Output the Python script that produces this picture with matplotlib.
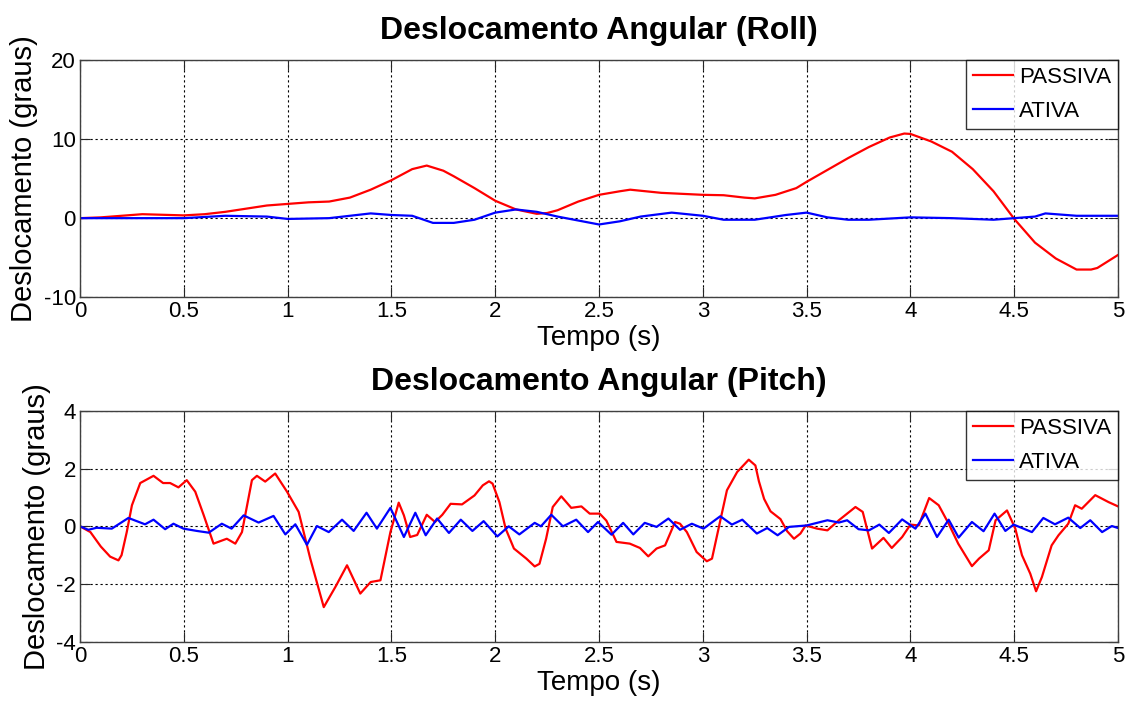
import matplotlib
matplotlib.use("Agg")
import matplotlib.pyplot as plt
import numpy as np

# --- Roll: deslocamento angular (graus) ---
roll_t_passiva = [0, 0.1, 0.3, 0.5, 0.6, 0.7, 0.8, 0.9, 1.0, 1.1,
                  1.2, 1.3, 1.4, 1.5, 1.6, 1.67, 1.75, 1.8, 1.9, 2.0,
                  2.1, 2.2, 2.25, 2.3, 2.4, 2.5, 2.6, 2.65, 2.8, 3.0,
                  3.1, 3.2, 3.25, 3.35, 3.45, 3.5, 3.6, 3.7, 3.8, 3.9,
                  3.97, 4.0, 4.1, 4.2, 4.3, 4.4, 4.5, 4.6, 4.7, 4.8,
                  4.87, 4.9, 5.0]
roll_passiva = [0, 0.1, 0.5, 0.35, 0.5, 0.8, 1.2, 1.6, 1.8, 2.0,
                2.1, 2.6, 3.6, 4.8, 6.2, 6.65, 6.0, 5.3, 3.8, 2.2,
                1.1, 0.55, 0.65, 1.0, 2.1, 2.95, 3.4, 3.6, 3.2, 2.95,
                2.9, 2.6, 2.5, 2.95, 3.8, 4.6, 6.1, 7.6, 9.0, 10.2,
                10.7, 10.65, 9.7, 8.4, 6.2, 3.4, -0.1, -3.1, -5.1, -6.5,
                -6.5, -6.3, -4.65]

roll_t_ativa = [0, 0.5, 0.7, 0.9, 1.0, 1.2, 1.3, 1.4, 1.5, 1.6,
                1.7, 1.8, 1.9, 2.0, 2.1, 2.2, 2.3, 2.4, 2.5, 2.6,
                2.7, 2.85, 3.0, 3.1, 3.25, 3.4, 3.5, 3.6, 3.7, 3.8,
                4.0, 4.2, 4.4, 4.5, 4.6, 4.65, 4.8, 5.0]
roll_ativa = [0, 0, 0.3, 0.2, -0.1, 0.0, 0.3, 0.6, 0.4, 0.3,
              -0.6, -0.6, -0.2, 0.7, 1.1, 0.8, 0.2, -0.3, -0.8, -0.4,
              0.2, 0.7, 0.3, -0.2, -0.2, 0.4, 0.7, 0.1, -0.2, -0.2,
              0.1, 0.0, -0.2, 0.0, 0.2, 0.6, 0.3, 0.3]

# --- Pitch: deslocamento angular (graus) ---
pitch_t_passiva = [0, 0.05, 0.1, 0.145, 0.185, 0.2, 0.225, 0.25, 0.29, 0.354,
                   0.4, 0.434, 0.474, 0.514, 0.555, 0.595, 0.643, 0.707, 0.748, 0.78,
                   0.828, 0.852, 0.892, 0.94, 0.997, 1.053, 1.109, 1.174, 1.23, 1.286,
                   1.35, 1.4, 1.447, 1.495, 1.535, 1.56, 1.59, 1.624, 1.67, 1.71,
                   1.745, 1.785, 1.84, 1.9, 1.94, 1.97, 1.987, 2.02, 2.05, 2.09,
                   2.15, 2.19, 2.213, 2.245, 2.277, 2.318, 2.366, 2.415, 2.455, 2.503,
                   2.535, 2.584, 2.648, 2.697, 2.737, 2.777, 2.818, 2.866, 2.89, 2.923,
                   2.97, 3.019, 3.044, 3.084, 3.116, 3.165, 3.221, 3.253, 3.27, 3.295,
                   3.326, 3.374, 3.406, 3.439, 3.47, 3.495, 3.55, 3.6, 3.655, 3.735,
                   3.77, 3.815, 3.87, 3.91, 3.96, 4.0, 4.04, 4.09, 4.136, 4.184,
                   4.23, 4.296, 4.33, 4.377, 4.41, 4.465, 4.505, 4.537, 4.577, 4.605,
                   4.633, 4.68, 4.713, 4.76, 4.793, 4.825, 4.89, 4.954, 5.0]
pitch_passiva = [0, -0.2, -0.7, -1.05, -1.18, -1.0, -0.2, 0.73, 1.5, 1.75,
                 1.5, 1.5, 1.35, 1.6, 1.2, 0.4, -0.6, -0.43, -0.6, -0.2,
                 1.6, 1.75, 1.55, 1.83, 1.2, 0.5, -1.12, -2.8, -2.1, -1.35,
                 -2.33, -1.93, -1.87, -0.2, 0.82, 0.38, -0.37, -0.3, 0.4, 0.15,
                 0.4, 0.78, 0.76, 1.07, 1.42, 1.56, 1.48, 0.84, -0.08, -0.77,
                 -1.12, -1.39, -1.3, -0.43, 0.67, 1.04, 0.64, 0.69, 0.44, 0.44,
                 0.2, -0.54, -0.6, -0.75, -1.04, -0.77, -0.66, 0.15, 0.09, -0.2,
                 -0.89, -1.21, -1.12, 0.2, 1.25, 1.88, 2.31, 2.11, 1.56, 0.95,
                 0.52, 0.25, -0.17, -0.43, -0.25, 0.03, -0.08, -0.14, 0.21, 0.67,
                 0.5, -0.77, -0.4, -0.75, -0.37, 0.06, 0.03, 0.98, 0.73, 0.09,
                 -0.6, -1.38, -1.12, -0.83, 0.21, 0.55, -0.08, -1.0, -1.64, -2.25,
                 -1.76, -0.66, -0.31, 0.09, 0.73, 0.61, 1.08, 0.84, 0.69]

pitch_t_ativa = [0, 0.04, 0.08, 0.153, 0.233, 0.313, 0.354, 0.41, 0.45, 0.498,
                 0.563, 0.62, 0.683, 0.73, 0.788, 0.86, 0.932, 0.989, 1.037, 1.093,
                 1.141, 1.198, 1.262, 1.318, 1.38, 1.43, 1.495, 1.56, 1.615, 1.665,
                 1.72, 1.777, 1.834, 1.89, 1.944, 2.01, 2.065, 2.116, 2.19, 2.22,
                 2.27, 2.326, 2.39, 2.447, 2.495, 2.56, 2.616, 2.665, 2.72, 2.777,
                 2.834, 2.89, 2.947, 3.003, 3.084, 3.14, 3.19, 3.26, 3.31, 3.36,
                 3.415, 3.5, 3.6, 3.655, 3.695, 3.75, 3.8, 3.85, 3.896, 3.96,
                 4.024, 4.072, 4.128, 4.184, 4.232, 4.296, 4.352, 4.405, 4.457, 4.497,
                 4.585, 4.64, 4.696, 4.76, 4.818, 4.866, 4.923, 4.97, 5.0]
pitch_ativa = [0, -0.12, -0.05, -0.08, 0.29, 0.07, 0.23, -0.1, 0.09, -0.08,
               -0.16, -0.22, 0.09, -0.08, 0.38, 0.13, 0.36, -0.28, 0.07, -0.64,
               0.01, -0.2, 0.23, -0.16, 0.47, -0.08, 0.64, -0.37, 0.47, -0.31,
               0.27, -0.23, 0.23, -0.16, 0.18, -0.35, 0.0, -0.28, 0.12, 0.0,
               0.4, 0.0, 0.23, -0.2, 0.15, -0.29, 0.12, -0.28, 0.12, -0.02,
               0.27, -0.12, 0.09, -0.08, 0.35, 0.06, 0.23, -0.25, -0.06, -0.31,
               -0.02, 0.03, 0.21, 0.13, 0.21, -0.1, -0.14, 0.06, -0.23, 0.24,
               -0.08, 0.44, -0.37, 0.23, -0.39, 0.15, -0.17, 0.44, -0.16, 0.06,
               -0.2, 0.29, 0.07, 0.3, -0.06, 0.21, -0.2, 0.01, -0.06]

x_ticks = [0, 0.5, 1, 1.5, 2, 2.5, 3, 3.5, 4, 4.5, 5]
x_ticklabels = ["0", "0.5", "1", "1.5", "2", "2.5", "3", "3.5", "4", "4.5", "5"]

RED = "#ff0000"
BLUE = "#0000ff"

plt.rcParams.update({
    "font.family": ["Liberation Sans", "DejaVu Sans"],
    "font.size": 16,
    "axes.unicode_minus": False,
})

fig = plt.figure(figsize=(11.32, 7.06), dpi=100)
ax_roll = fig.add_axes([0.0707, 0.579, 0.917, 0.336])
ax_pitch = fig.add_axes([0.0707, 0.091, 0.917, 0.327])


def style_axes(ax, title, ylim, yticks):
    ax.set_xlim(0, 5)
    ax.set_ylim(*ylim)
    ax.set_xticks(x_ticks)
    ax.set_xticklabels(x_ticklabels)
    ax.set_yticks(yticks)
    ax.tick_params(direction="in", length=7, width=0.8, top=True, right=True,
                   labelsize=16, pad=3, color="#262626")
    ax.grid(True, color="black", linestyle=(0, (2, 2.5)), linewidth=0.8)
    for sp in ax.spines.values():
        sp.set_color("#404040")
        sp.set_linewidth(1.0)
    ax.set_title(title, fontsize=23, fontweight="bold", pad=15)
    ax.set_xlabel("Tempo (s)", fontsize=20, labelpad=2)
    ax.set_ylabel("Deslocamento (graus)", fontsize=21, labelpad=4)
    leg = ax.legend(loc="upper right", fontsize=16, frameon=True, fancybox=False,
                    borderaxespad=0, handlelength=1.8, handletextpad=0.3,
                    borderpad=0.3, labelspacing=0.6)
    leg.get_frame().set_edgecolor("black")
    leg.get_frame().set_linewidth(1.0)


ax_roll.plot(roll_t_passiva, roll_passiva, color=RED, lw=1.6,
             solid_joinstyle="round", label="PASSIVA")
ax_roll.plot(roll_t_ativa, roll_ativa, color=BLUE, lw=1.6,
             solid_joinstyle="round", label="ATIVA")
style_axes(ax_roll, "Deslocamento Angular (Roll)", (-10, 20), [-10, 0, 10, 20])

ax_pitch.plot(pitch_t_passiva, pitch_passiva, color=RED, lw=1.6,
              solid_joinstyle="round", label="PASSIVA")
ax_pitch.plot(pitch_t_ativa, pitch_ativa, color=BLUE, lw=1.6,
              solid_joinstyle="round", label="ATIVA")
style_axes(ax_pitch, "Deslocamento Angular (Pitch)", (-4, 4), [-4, -2, 0, 2, 4])

fig.savefig("out.png", dpi=100)
